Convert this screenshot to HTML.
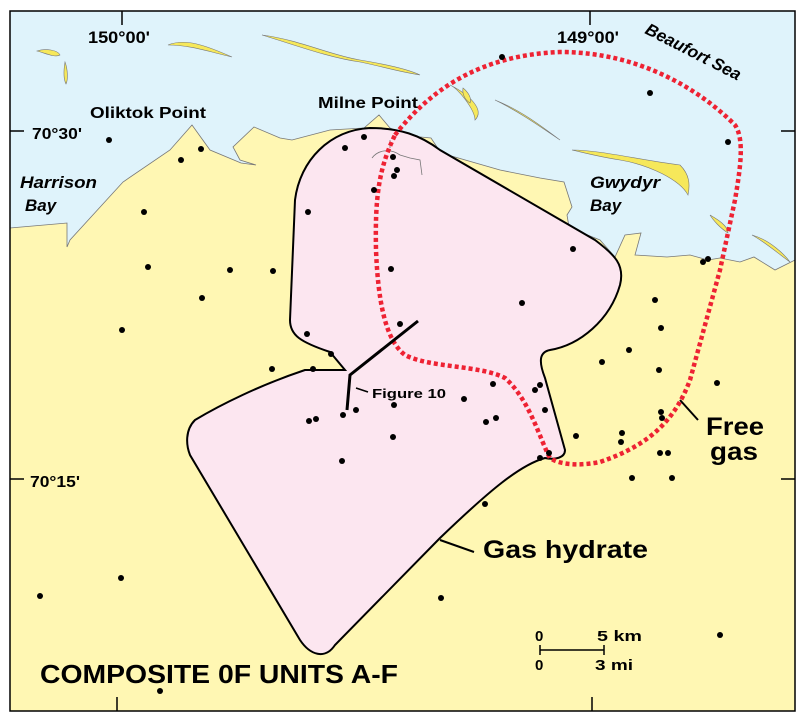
<!DOCTYPE html>
<html><head><style>html,body{margin:0;padding:0;background:#fff}svg{display:block}</style></head>
<body>
<svg width="800" height="718" viewBox="0 0 800 718" xmlns="http://www.w3.org/2000/svg" font-family="Liberation Sans, sans-serif">
<rect x="10" y="11" width="785" height="700" fill="#dff3fb"/>
<!-- land -->
<path d="M10,228 L67,223 L67,247 L70,240 L123,182 L170,150 L192,125 L210,150 L241,163 L256,165 L240,160 L233,147 L254,127 L280,138 L292,140 L330,130 L364,128 L379,115 L390,128 L410,136 L431,138 L441,153 L500,170 L540,178 L564,182 L572,207 L567,215 L569,227 L580,232 L600,240 L615,257 L625,235 L641,233 L635,255 L667,257 L690,255 L708,260 L720,258 L740,262 L754,257 L775,270 L795,260 L795,711 L10,711 Z" fill="#fff7b3" stroke="#777" stroke-width="0.8"/>
<!-- islands -->
<g fill="#f6e85a" stroke="#777" stroke-width="0.6">
<path d="M37,51 C45,48 58,50 60,55 C55,58 45,53 37,51Z"/>
<path d="M65,62 C68,70 68,80 66,84 C63,78 64,68 65,62Z"/>
<path d="M168,45 C185,38 205,45 232,57 C210,52 190,45 168,45Z"/>
<path d="M262,35 C300,40 330,55 360,60 C390,65 410,70 420,75 C400,72 380,66 360,62 C330,58 295,45 262,35Z"/>
<path d="M450,85 C458,88 475,110 475,120 C485,110 470,95 450,85Z"/>
<path d="M495,100 C520,110 540,125 560,140 C545,130 520,112 495,100Z"/>
<path d="M572,150 C600,150 640,160 680,165 C690,175 690,185 688,195 C680,180 650,165 620,160 C600,157 585,153 572,150Z"/>
<path d="M710,215 C715,218 728,225 728,233 C720,228 713,220 710,215Z"/>
<path d="M752,235 C770,240 785,255 790,262 C780,255 765,242 752,235Z"/>
<path d="M463,88 C468,92 472,98 470,103 C465,100 462,94 463,88Z"/>
</g>
<!-- hydrate -->
<path d="M370,128 C330,130 300,160 295,200 L290,320 C290,335 300,342 330,352 L345,370 L305,370 C260,385 220,405 195,420 C185,430 186,445 190,455 L300,640 C310,655 325,660 335,645 L440,538 C490,490 520,465 545,458 C555,460 565,458 565,450 L545,378 C538,360 540,352 550,350 C580,345 610,320 620,285 C625,265 615,255 595,240 L440,150 C420,135 400,128 370,128 Z" fill="#fce6f0" stroke="#000" stroke-width="2"/>
<path d="M372,158 C378,150 390,148 400,155 L410,158 L420,160 L422,175 M390,148 L390,140" fill="none" stroke="#777" stroke-width="0.8"/>
<!-- free gas -->
<path d="M395,135 C430,90 480,55 560,52 C640,52 700,90 735,125 C745,140 740,170 735,200 L720,270 L690,380 C675,420 650,445 600,462 C580,466 560,465 550,458 C540,440 530,400 505,378 C480,365 430,368 405,355 C385,340 378,300 376,250 C375,200 378,170 395,135 Z" fill="none" stroke="#ee2233" stroke-width="4.5" stroke-dasharray="4,3"/>
<!-- dots -->
<g fill="#000">
<circle cx="502" cy="57" r="3"/><circle cx="650" cy="93" r="3"/><circle cx="728" cy="142" r="3"/><circle cx="109" cy="140" r="3"/><circle cx="201" cy="149" r="3"/><circle cx="181" cy="160" r="3"/><circle cx="345" cy="148" r="3"/><circle cx="364" cy="137" r="3"/><circle cx="393" cy="157" r="3"/><circle cx="397" cy="170" r="3"/><circle cx="394" cy="176" r="3"/><circle cx="374" cy="190" r="3"/><circle cx="308" cy="212" r="3"/><circle cx="144" cy="212" r="3"/><circle cx="573" cy="249" r="3"/><circle cx="148" cy="267" r="3"/><circle cx="230" cy="270" r="3"/><circle cx="273" cy="271" r="3"/><circle cx="391" cy="269" r="3"/><circle cx="708" cy="259" r="3"/><circle cx="703" cy="262" r="3"/><circle cx="202" cy="298" r="3"/><circle cx="122" cy="330" r="3"/><circle cx="522" cy="303" r="3"/><circle cx="655" cy="300" r="3"/><circle cx="400" cy="324" r="3"/><circle cx="307" cy="334" r="3"/><circle cx="331" cy="354" r="3"/><circle cx="272" cy="369" r="3"/><circle cx="313" cy="369" r="3"/><circle cx="661" cy="328" r="3"/><circle cx="629" cy="350" r="3"/><circle cx="602" cy="362" r="3"/><circle cx="659" cy="370" r="3"/><circle cx="717" cy="383" r="3"/><circle cx="493" cy="384" r="3"/><circle cx="540" cy="385" r="3"/><circle cx="535" cy="390" r="3"/><circle cx="496" cy="418" r="3"/><circle cx="486" cy="422" r="3"/><circle cx="464" cy="399" r="3"/><circle cx="394" cy="405" r="3"/><circle cx="356" cy="410" r="3"/><circle cx="343" cy="415" r="3"/><circle cx="309" cy="421" r="3"/><circle cx="316" cy="419" r="3"/><circle cx="545" cy="410" r="3"/><circle cx="576" cy="436" r="3"/><circle cx="622" cy="433" r="3"/><circle cx="621" cy="442" r="3"/><circle cx="661" cy="412" r="3"/><circle cx="662" cy="418" r="3"/><circle cx="660" cy="453" r="3"/><circle cx="668" cy="453" r="3"/><circle cx="540" cy="458" r="3"/><circle cx="549" cy="453" r="3"/><circle cx="393" cy="437" r="3"/><circle cx="342" cy="461" r="3"/><circle cx="632" cy="478" r="3"/><circle cx="672" cy="478" r="3"/><circle cx="485" cy="504" r="3"/><circle cx="121" cy="578" r="3"/><circle cx="40" cy="596" r="3"/><circle cx="441" cy="598" r="3"/><circle cx="720" cy="635" r="3"/><circle cx="160" cy="691" r="3"/>
</g>
<!-- figure 10 line -->
<path d="M418,321 L350,375 L347,410" fill="none" stroke="#000" stroke-width="3"/>
<line x1="356" y1="388" x2="368" y2="392" stroke="#000" stroke-width="1.5"/>
<!-- leaders -->
<line x1="680" y1="400" x2="698" y2="420" stroke="#000" stroke-width="2"/>
<line x1="440" y1="540" x2="474" y2="552" stroke="#000" stroke-width="2"/>
<!-- frame + ticks -->
<rect x="10" y="11" width="785" height="700" fill="none" stroke="#000" stroke-width="1.5"/>
<g stroke="#000" stroke-width="1.5">
<line x1="122" y1="11" x2="122" y2="25"/><line x1="590" y1="11" x2="590" y2="25"/>
<line x1="10" y1="131" x2="24" y2="131"/><line x1="781" y1="131" x2="795" y2="131"/>
<line x1="10" y1="479" x2="24" y2="479"/><line x1="781" y1="479" x2="795" y2="479"/>
<line x1="117" y1="697" x2="117" y2="711"/><line x1="592" y1="697" x2="592" y2="711"/>
<line x1="540" y1="650" x2="604" y2="650"/><line x1="540" y1="645" x2="540" y2="655"/><line x1="604" y1="645" x2="604" y2="655"/>
</g>
<g font-weight="bold" fill="#000">
<text x="88" y="43" font-size="17" textLength="62" lengthAdjust="spacingAndGlyphs">150°00'</text>
<text x="557" y="43" font-size="17" textLength="62" lengthAdjust="spacingAndGlyphs">149°00'</text>
<text x="644" y="33" font-size="17" font-style="italic" transform="rotate(27 644 33)" textLength="105" lengthAdjust="spacingAndGlyphs">Beaufort Sea</text>
<text x="90" y="118" font-size="16" textLength="116" lengthAdjust="spacingAndGlyphs">Oliktok Point</text>
<text x="318" y="108" font-size="16" textLength="100" lengthAdjust="spacingAndGlyphs">Milne Point</text>
<text x="32" y="139" font-size="16" textLength="50" lengthAdjust="spacingAndGlyphs">70°30'</text>
<text x="30" y="487" font-size="16" textLength="50" lengthAdjust="spacingAndGlyphs">70°15'</text>
<text x="20" y="188" font-size="17" font-style="italic" textLength="77" lengthAdjust="spacingAndGlyphs">Harrison</text>
<text x="25" y="211" font-size="17" font-style="italic">Bay</text>
<text x="590" y="188" font-size="17" font-style="italic" textLength="70" lengthAdjust="spacingAndGlyphs">Gwydyr</text>
<text x="590" y="211" font-size="17" font-style="italic">Bay</text>
<text x="372" y="398" font-size="13" textLength="74" lengthAdjust="spacingAndGlyphs">Figure 10</text>
<text x="706" y="435" font-size="25" textLength="58" lengthAdjust="spacingAndGlyphs">Free</text>
<text x="710" y="460" font-size="25" textLength="48" lengthAdjust="spacingAndGlyphs">gas</text>
<text x="483" y="558" font-size="25" textLength="165" lengthAdjust="spacingAndGlyphs">Gas hydrate</text>
<text x="40" y="683" font-size="26" textLength="358" lengthAdjust="spacingAndGlyphs">COMPOSITE 0F UNITS A-F</text>
<text x="535" y="641" font-size="15">0</text>
<text x="597" y="641" font-size="15" textLength="45" lengthAdjust="spacingAndGlyphs">5 km</text>
<text x="535" y="670" font-size="15">0</text>
<text x="595" y="670" font-size="15" textLength="38" lengthAdjust="spacingAndGlyphs">3 mi</text>
</g>
</svg>
</body></html>
